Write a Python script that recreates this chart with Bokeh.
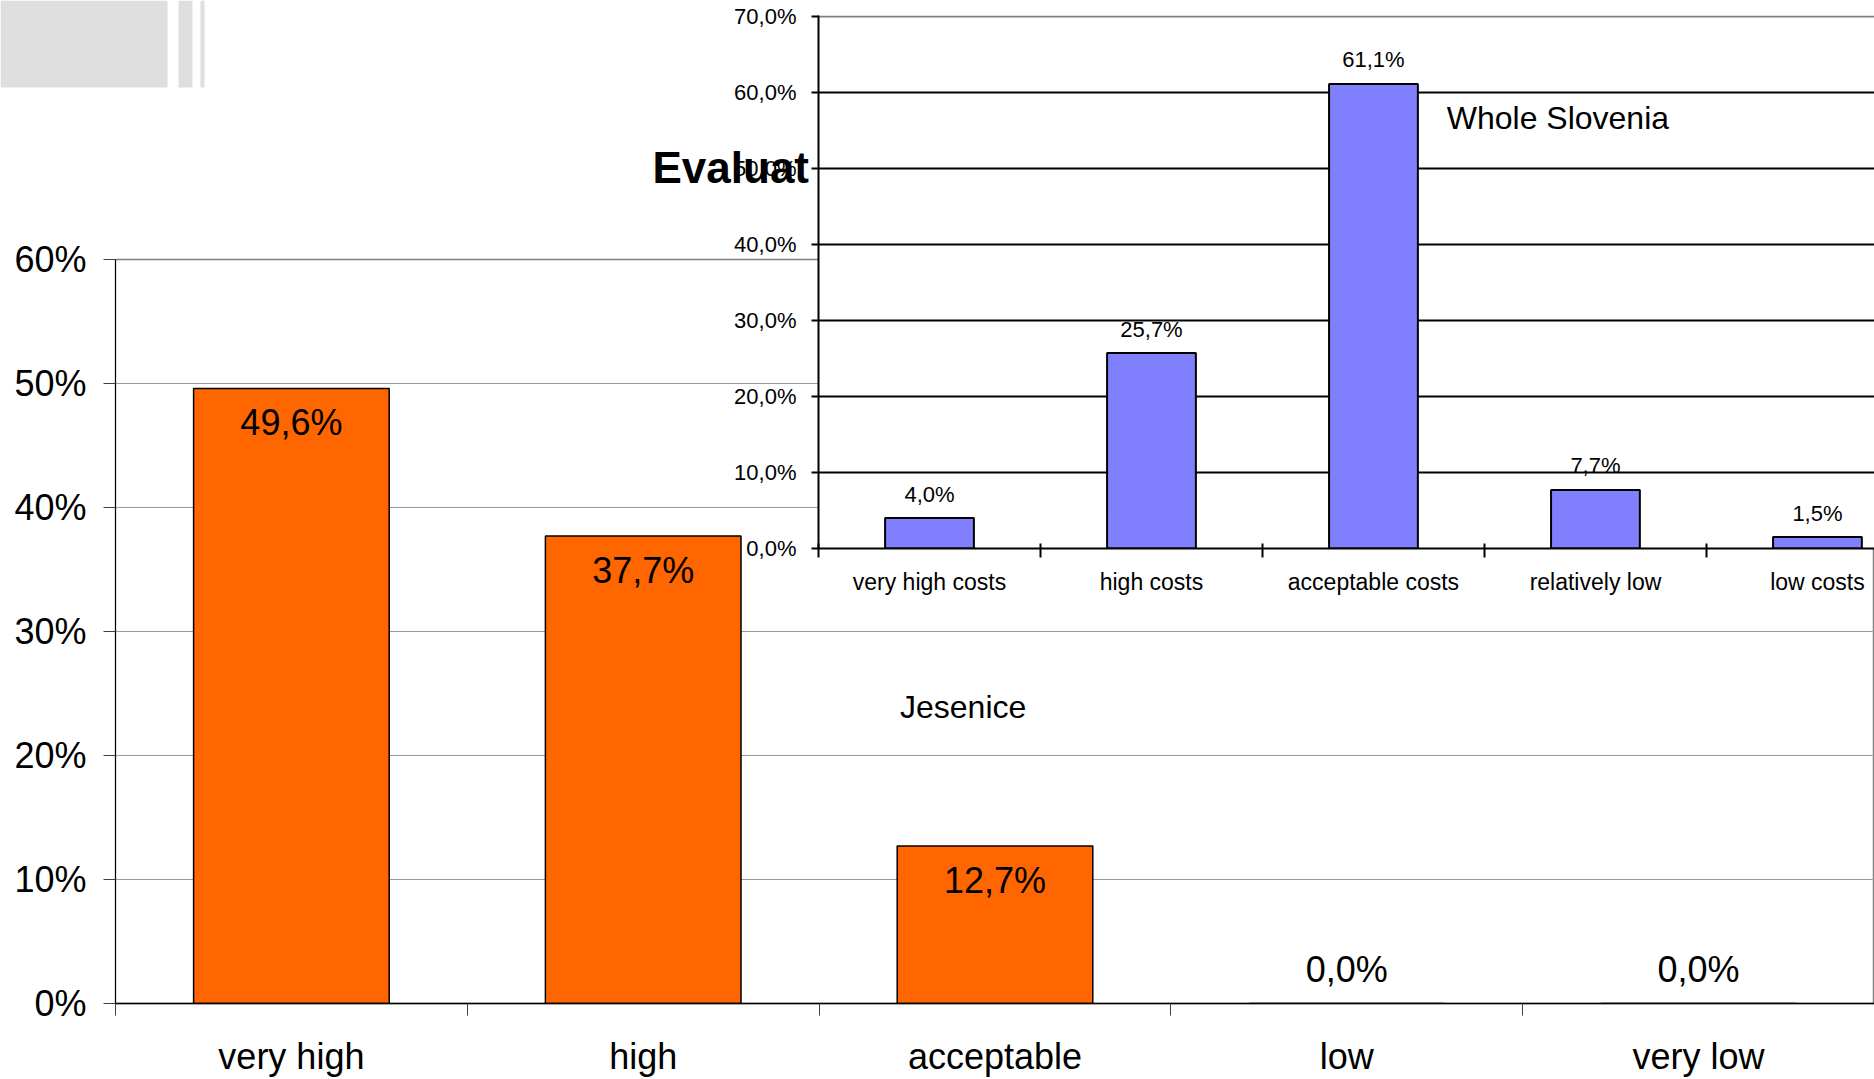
from bokeh.plotting import figure
from bokeh.models import (Range1d, FixedTicker, PrintfTickFormatter, ColumnDataSource,
                          Label, BoxAnnotation, Grid)
from bokeh.layouts import column
from bokeh.core.properties import value
from bokeh.embed import file_html
from bokeh.resources import INLINE

FONT = "Liberation Sans"
LEFT = 115  # shared left border of the stacked figures

# Jesenice: evaluation of costs
jes_categories = ["very high", "high", "acceptable", "low", "very low"]
jes_values = [49.6, 37.7, 12.7, 0.0, 0.0]
jes_ticks = [0, 10, 20, 30, 40, 50, 60]

# Whole Slovenia: evaluation of costs
slo_categories = ["very high costs", "high costs", "acceptable costs", "relatively low", "low costs"]
slo_values = [4.0, 25.7, 61.1, 7.7, 1.5]
slo_ticks = [0, 10, 20, 30, 40, 50, 60, 70]
slo_tick_labels = ["0,0%", "10,0%", "20,0%", "30,0%", "40,0%", "50,0%", "60,0%", "70,0%"]


def pct(v):
    return f"{v:.1f}%".replace(".", ",")


# ---------------- main chart (Jesenice) ----------------
jx = list(range(len(jes_categories)))
jes_src = ColumnDataSource(dict(
    x=jx,
    value=jes_values,
    label=[pct(v) for v in jes_values],
    off=[34 if v > 0 else -34 for v in jes_values],
))

p = figure(width=1874, height=1079,
           x_range=Range1d(-0.5, len(jes_categories) - 0.5), y_range=Range1d(0, 60),
           output_backend="svg", toolbar_location=None,
           min_border_left=LEFT, min_border_right=0, min_border_top=259, min_border_bottom=75,
           background_fill_color="white", border_fill_color="white",
           outline_line_color="#808080", outline_line_width=1.5)

p.vbar(x="x", top="value", width=0.556, source=jes_src,
       fill_color="#FF6600", line_color="black", line_width=1.5)
p.text(x="x", y="value", text="label", y_offset="off", source=jes_src,
       text_align="center", text_baseline="middle",
       text_font=value(FONT), text_font_size="36px", text_color="black")

p.xgrid.grid_line_color = None
p.ygrid.ticker = FixedTicker(ticks=jes_ticks)
p.ygrid.grid_line_color = "#9a9a9a"
p.ygrid.grid_line_width = 1

p.yaxis.ticker = FixedTicker(ticks=jes_ticks)
p.yaxis.formatter = PrintfTickFormatter(format="%d%%")
p.yaxis.major_tick_out = 12
p.yaxis.major_tick_in = 0
p.yaxis.minor_tick_line_color = None
p.yaxis.major_tick_line_color = "#404040"
p.yaxis.axis_line_color = "black"
p.yaxis.major_label_standoff = 17
p.yaxis.major_label_text_font = FONT
p.yaxis.major_label_text_font_size = "36px"
p.yaxis.major_label_text_color = "black"

p.xaxis.ticker = FixedTicker(ticks=jx, minor_ticks=[i - 0.5 for i in range(len(jx) + 1)])
p.xaxis.major_label_overrides = {i: c for i, c in enumerate(jes_categories)}
p.xaxis.major_tick_out = 0
p.xaxis.major_tick_in = 0
p.xaxis.major_tick_line_color = None
p.xaxis.minor_tick_out = 12
p.xaxis.minor_tick_in = 0
p.xaxis.minor_tick_line_color = "#404040"
p.xaxis.axis_line_color = "black"
p.xaxis.axis_line_width = 1.5
p.xaxis.major_label_standoff = 20
p.xaxis.major_label_text_font = FONT
p.xaxis.major_label_text_font_size = "36px"
p.xaxis.major_label_text_color = "black"

p.add_layout(Label(x=1.73, y=23.9, text="Jesenice", text_baseline="middle",
                   text_font=FONT, text_font_size="32px", text_color="black"))

# ---------------- slide header: title and corner decoration ----------------
# shifted left by the shared border so that its frame starts at the page edge
header = figure(width=LEFT + 900, height=220,
                x_range=Range1d(0, 900), y_range=Range1d(220, 0),
                x_axis_type=None, y_axis_type=None,
                output_backend="svg", toolbar_location=None,
                min_border_left=LEFT, min_border_right=0, min_border_top=0, min_border_bottom=0,
                background_fill_color=None, border_fill_color=None,
                outline_line_color=None,
                styles={"position": "absolute", "left": f"-{LEFT}px", "top": "0px"})
header.grid.grid_line_color = None
for l, r in [(0, 167), (178, 192), (200, 204)]:
    header.add_layout(BoxAnnotation(left=l, right=r, top=0, bottom=87,
                                    fill_color="#DEDEDE", fill_alpha=1, line_color=None))
header.add_layout(Label(x=652, y=167, text="Evaluat", text_baseline="alphabetic",
                        text_font=FONT, text_font_size="44px", text_font_style="bold",
                        text_color="black"))

# ---------------- inset chart (Whole Slovenia) ----------------
sx = list(range(len(slo_categories)))
slo_src = ColumnDataSource(dict(x=sx, value=slo_values, label=[pct(v) for v in slo_values]))

inset_left = 818 - LEFT
inset = figure(width=1874 - inset_left, height=608,
               x_range=Range1d(-0.5, 4.257), y_range=Range1d(0, 70.1),
               output_backend="svg", toolbar_location=None,
               min_border_left=LEFT, min_border_right=0, min_border_top=15, min_border_bottom=60,
               background_fill_color="white", border_fill_color=None,
               outline_line_color=None,
               styles={"position": "absolute", "left": f"{inset_left}px", "top": "0px"})

inset.xgrid.grid_line_color = None
inset.ygrid.ticker = FixedTicker(ticks=slo_ticks[1:-1])
inset.ygrid.grid_line_color = "black"
inset.ygrid.grid_line_width = 2
inset.add_layout(Grid(dimension=1, ticker=FixedTicker(ticks=slo_ticks[-1:]),
                      grid_line_color="#808080", grid_line_width=2))

inset.vbar(x="x", top="value", width=0.4, source=slo_src,
           fill_color="#8080FF", line_color="black", line_width=2)
inset.text(x="x", y="value", text="label", y_offset=-24, source=slo_src,
           text_align="center", text_baseline="middle",
           text_font=value(FONT), text_font_size="22px", text_color="black")

inset.yaxis.ticker = FixedTicker(ticks=slo_ticks)
inset.yaxis.major_label_overrides = {t: s for t, s in zip(slo_ticks, slo_tick_labels)}
inset.yaxis.major_tick_out = 7
inset.yaxis.major_tick_in = 0
inset.yaxis.major_tick_line_color = "black"
inset.yaxis.major_tick_line_width = 2
inset.yaxis.minor_tick_line_color = None
inset.yaxis.axis_line_color = "black"
inset.yaxis.axis_line_width = 2
inset.yaxis.major_label_standoff = 15
inset.yaxis.major_label_text_font = FONT
inset.yaxis.major_label_text_font_size = "22px"
inset.yaxis.major_label_text_color = "black"

inset.xaxis.ticker = FixedTicker(ticks=sx, minor_ticks=[i - 0.5 for i in range(len(sx) + 1)])
inset.xaxis.major_label_overrides = {i: c for i, c in enumerate(slo_categories)}
inset.xaxis.major_tick_out = 0
inset.xaxis.major_tick_in = 0
inset.xaxis.major_tick_line_color = None
inset.xaxis.minor_tick_out = 9
inset.xaxis.minor_tick_in = 5
inset.xaxis.minor_tick_line_color = "black"
inset.xaxis.minor_tick_line_width = 2
inset.xaxis.axis_line_color = "black"
inset.xaxis.axis_line_width = 2
inset.xaxis.major_label_standoff = 11
inset.xaxis.major_label_text_font = FONT
inset.xaxis.major_label_text_font_size = "23px"
inset.xaxis.major_label_text_color = "black"

inset.add_layout(Label(x=2.33, y=56.6, text="Whole Slovenia", text_baseline="middle",
                       text_font=FONT, text_font_size="32px", text_color="black"))

layout = column(p, header, inset, width=1874, height=1079, styles={"position": "relative"})

open("out.html", "w").write(file_html(layout, INLINE))
